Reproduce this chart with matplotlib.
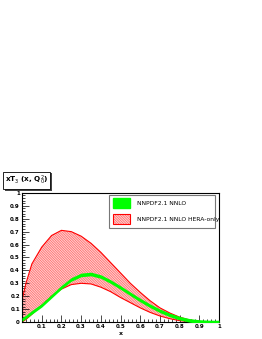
import matplotlib
matplotlib.use('Agg')
import matplotlib.pyplot as plt
import numpy as np
from matplotlib.patches import Patch, Rectangle
from matplotlib.ticker import MultipleLocator

plt.rcParams['hatch.linewidth'] = 0.3

# data
x = [0.0, 0.02, 0.05, 0.1, 0.15, 0.2, 0.25, 0.3, 0.35, 0.4, 0.45, 0.5,
     0.55, 0.6, 0.65, 0.7, 0.75, 0.8, 0.85, 0.9, 0.95, 1.0]
hera_up = [0.17, 0.30, 0.45, 0.58, 0.67, 0.71, 0.70, 0.665, 0.61, 0.54, 0.46, 0.38,
           0.30, 0.23, 0.165, 0.11, 0.07, 0.038, 0.016, 0.005, 0.001, 0.0]
hera_lo = [0.0, 0.02, 0.06, 0.13, 0.20, 0.255, 0.29, 0.30, 0.295, 0.27, 0.235, 0.19,
           0.15, 0.11, 0.075, 0.047, 0.026, 0.011, 0.003, 0.0, 0.0, 0.0]
nnlo_c = [0.02, 0.04, 0.075, 0.13, 0.20, 0.27, 0.33, 0.365, 0.372, 0.352, 0.313, 0.267,
          0.218, 0.17, 0.126, 0.087, 0.055, 0.03, 0.013, 0.004, 0.0005, 0.0]
nnlo_err = 0.014

labels = ['NNPDF2.1 NNLO', 'NNPDF2.1 NNLO HERA-only']
xticks = [0, 0.1, 0.2, 0.3, 0.4, 0.5, 0.6, 0.7, 0.8, 0.9, 1.0]
xticklabels = ['', '0.1', '0.2', '0.3', '0.4', '0.5', '0.6', '0.7', '0.8', '0.9', '1']
yticks = [0, 0.1, 0.2, 0.3, 0.4, 0.5, 0.6, 0.7, 0.8, 0.9, 1.0]
yticklabels = ['0', '0.1', '0.2', '0.3', '0.4', '0.5', '0.6', '0.7', '0.8', '0.9', '1']

HATCH = '\\' * 20

x = np.array(x)
fig = plt.figure(figsize=(2.62, 3.39), dpi=100)
ax = fig.add_axes([0.084, 0.050, 0.752, 0.381])

# HERA-only band, hatched red
ax.fill_between(x, hera_lo, hera_up, facecolor='none', edgecolor='red',
                hatch=HATCH, linewidth=0)
ax.plot(x, hera_up, color='red', lw=0.8)
ax.plot(x, hera_lo, color='red', lw=0.8)

# NNLO band, solid green
c = np.array(nnlo_c)
ax.fill_between(x, c - nnlo_err, c + nnlo_err, color='#00ff00', lw=0, zorder=3)

ax.set_xlim(0, 1)
ax.set_ylim(0, 1)
ax.set_xticks(xticks)
ax.set_xticklabels(xticklabels)
ax.set_yticks(yticks)
ax.set_yticklabels(yticklabels)
ax.xaxis.set_minor_locator(MultipleLocator(0.02))
ax.yaxis.set_minor_locator(MultipleLocator(0.02))
ax.tick_params(which='both', direction='in', labelsize=4, pad=1.5, width=0.5)
ax.tick_params(which='major', length=5)
ax.tick_params(which='minor', length=2.5)
for lab in ax.get_xticklabels() + ax.get_yticklabels():
    lab.set_fontweight('bold')
for s in ax.spines.values():
    s.set_linewidth(0.8)
ax.set_xlabel('x', fontsize=4.5, fontweight='bold', labelpad=1)

# legend box
handles = [Patch(facecolor='#00ff00', edgecolor='#00ff00'),
           Patch(facecolor='white', edgecolor='red', hatch=HATCH, lw=0.8)]
leg = fig.legend(handles, labels, loc='upper left',
                 bbox_to_anchor=(0.405, 0.434, 0.427, 0.0), mode='expand',
                 fontsize=4.3, fancybox=False, shadow=False, framealpha=1,
                 edgecolor='#777777', handlelength=2.9, handleheight=2.2,
                 labelspacing=1.0, borderpad=0.6, handletextpad=1.2)
leg.get_frame().set_linewidth(0.8)

# title box with a drop shadow
t = fig.text(0.018, 0.468, 'xT$_3$ (x, Q$_0^2$)', fontsize=5.2, fontweight='bold',
             va='center', ha='left', zorder=5,
             bbox=dict(boxstyle='square,pad=0.28', facecolor='white',
                       edgecolor='black', lw=0.6))
fig.canvas.draw()
bb = t.get_bbox_patch().get_window_extent().transformed(fig.transFigure.inverted())
fig.patches.append(Rectangle((bb.x0 + 0.007, bb.y0 - 0.005), bb.width, bb.height,
                             transform=fig.transFigure, facecolor='#444444',
                             edgecolor='none', zorder=1))

fig.savefig('out.png', dpi=100)
